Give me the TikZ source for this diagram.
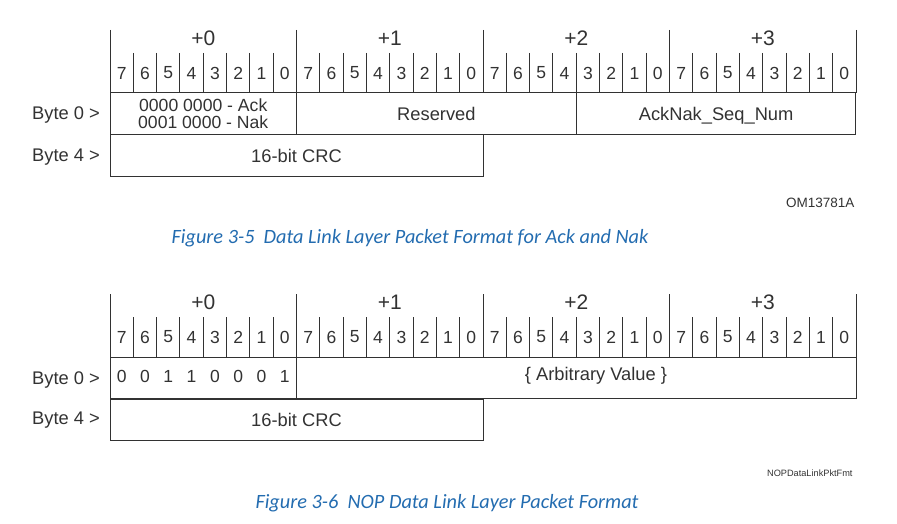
\documentclass[tikz,border=0pt]{standalone}
\usepackage{fontspec}
\setmainfont{Liberation Sans}
\newfontfamily\capfont{Carlito}
\usepackage{tikz}
\usepackage{xcolor}
\definecolor{ink}{RGB}{50,50,50}
\definecolor{capblue}{RGB}{35,108,176}

\begin{document}
\begin{tikzpicture}[x=1pt, y=-1pt, line width=1pt, color=ink,
  every node/.style={font=\fontsize{18.3}{19}\selectfont, inner sep=0pt},
  field/.style={draw, minimum height=42pt},
  bitnum/.style={font=\fontsize{17.5}{18}\selectfont},
  bytenum/.style={font=\fontsize{21}{22}\selectfont},
  figcap/.style={font=\capfont\itshape\fontsize{20.3}{22}\selectfont, text=capblue},
  tag/.style={font=\fontsize{13.5}{15}\selectfont, anchor=east}]
\useasboundingbox (0,0) rectangle (897,524);

% bit grid, both packets
\foreach \dy in {0,264} {
  \foreach \i in {0,...,32} {
    \pgfmathsetmacro\ytop{mod(\i,8)==0 ? 30 : 53}
    \draw (110+\i*23.3125, \ytop+\dy) -- (110+\i*23.3125, 93+\dy);
  }
  \foreach \i in {0,...,31} {
    \pgfmathtruncatemacro\b{7-mod(\i,8)}
    \node[bitnum] (bit\dy-\i) at (110+11.66+\i*23.3125, 73+\dy) {\b};
  }
  \foreach \k in {0,...,3}
    \node[bytenum] (off\dy-\k) at (110+93.25+\k*186.5, 38+\dy) {+\k};
}

% Ack / Nak
\node (row0) at (66,115) {Byte 0 >};
\node (row4) at (66,157) {Byte 4 >};
\node[field, minimum width=186.5pt, align=center, font=\fontsize{17.6}{16.6}\selectfont] (ack) at (203.25,114) {0000 0000 - Ack\\0001 0000 - Nak};
\node[field, minimum width=279.75pt] (resv) at (436.4,114) {Reserved};
\node[field, minimum width=279.75pt, text depth=0pt] (seqnum) at (716.1,114) {AckNak\_Seq\_Num};
\node[field, minimum width=373pt, minimum height=41pt] (crc) at (296.5,155.5) {16-bit CRC};
\node[tag] (omtag) at (855,203) {OM13781A};
\node[figcap] (cap1) at (410,238) {Figure 3-5 \ Data Link Layer Packet Format for Ack and Nak};

% NOP
\node (nrow0) at (66,380) {Byte 0 >};
\node (nrow4) at (66,420) {Byte 4 >};
\node[field, minimum width=186.5pt, minimum height=41pt] (nopid) at (203.25,378) {};
\foreach \i/\v in {0/0,1/0,2/1,3/1,4/0,5/0,6/0,7/1}
  \node[bitnum] (nop\i) at (110+11.66+\i*23.3125, 376) {\v};
\node[field, minimum width=559.5pt, minimum height=41pt] (arb) at (576.25,378) {};
\node (arbtxt) at (596,376) {\{ Arbitrary Value \}};
\node[field, minimum width=373pt, minimum height=41pt] (ncrc) at (296.5,419.5) {16-bit CRC};
\node[tag, font=\fontsize{9.2}{10}\selectfont] (noptag) at (853,473) {NOPDataLinkPktFmt};
\node[figcap] (cap2) at (447,503) {Figure 3-6 \ NOP Data Link Layer Packet Format};
\end{tikzpicture}
\end{document}
